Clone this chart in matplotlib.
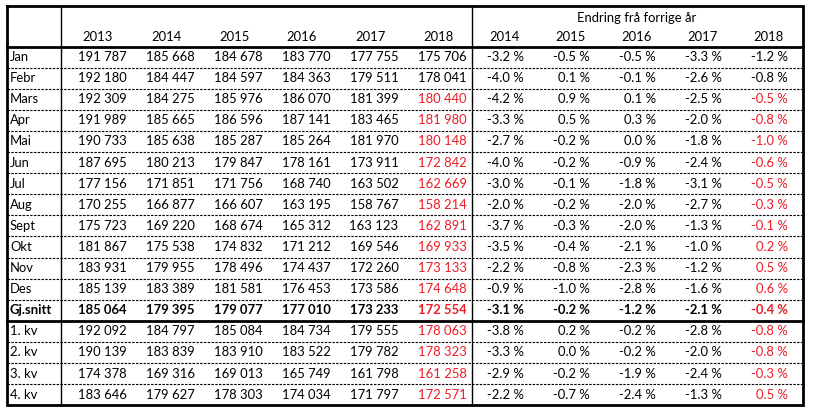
import matplotlib.pyplot as plt

# table data
row_labels = ["Jan", "Febr", "Mars", "Apr", "Mai", "Jun", "Jul", "Aug", "Sept",
              "Okt", "Nov", "Des", "Gj.snitt", "1. kv", "2. kv", "3. kv", "4. kv"]
years = ["2013", "2014", "2015", "2016", "2017", "2018"]
pct_years = ["2014", "2015", "2016", "2017", "2018"]

vals_2013 = [191787, 192180, 192309, 191989, 190733, 187695, 177156, 170255, 175723,
             181867, 183931, 185139, 185064, 192092, 190139, 174378, 183646]
vals_2014 = [185668, 184447, 184275, 185665, 185638, 180213, 171851, 166877, 169220,
             175538, 179955, 183389, 179395, 184797, 183839, 169316, 179627]
vals_2015 = [184678, 184597, 185976, 186596, 185287, 179847, 171756, 166607, 168674,
             174832, 178496, 181581, 179077, 185084, 183910, 169013, 178303]
vals_2016 = [183770, 184363, 186070, 187141, 185264, 178161, 168740, 163195, 165312,
             171212, 174437, 176453, 177010, 184734, 183522, 165749, 174034]
vals_2017 = [177755, 179511, 181399, 183465, 181970, 173911, 163502, 158767, 163123,
             169546, 172260, 173586, 173233, 179555, 179782, 161798, 171797]
vals_2018 = [175706, 178041, 180440, 181980, 180148, 172842, 162669, 158214, 162891,
             169933, 173133, 174648, 172554, 178063, 178323, 161258, 172571]

pct_2014 = [-3.2, -4.0, -4.2, -3.3, -2.7, -4.0, -3.0, -2.0, -3.7, -3.5, -2.2, -0.9,
            -3.1, -3.8, -3.3, -2.9, -2.2]
pct_2015 = [-0.5, 0.1, 0.9, 0.5, -0.2, -0.2, -0.1, -0.2, -0.3, -0.4, -0.8, -1.0,
            -0.2, 0.2, 0.0, -0.2, -0.7]
pct_2016 = [-0.5, -0.1, 0.1, 0.3, 0.0, -0.9, -1.8, -2.0, -2.0, -2.1, -2.3, -2.8,
            -1.2, -0.2, -0.2, -1.9, -2.4]
pct_2017 = [-3.3, -2.6, -2.5, -2.0, -1.8, -2.4, -3.1, -2.7, -1.3, -1.0, -1.2, -1.6,
            -2.1, -2.8, -2.0, -2.4, -1.3]
pct_2018 = [-1.2, -0.8, -0.5, -0.8, -1.0, -0.6, -0.5, -0.3, -0.1, 0.2, 0.5, 0.6,
            -0.4, -0.8, -0.8, -0.3, 0.5]

vals = [vals_2013, vals_2014, vals_2015, vals_2016, vals_2017, vals_2018]
pcts = [pct_2014, pct_2015, pct_2016, pct_2017, pct_2018]

RED = "#ee1c25"
red_from = 2      # 2018 figures from Mars onward are red
bold_row = 12     # Gj.snitt

plt.rcParams['font.family'] = ['Lato', 'DejaVu Sans']
fs = 9.4

fig = plt.figure(figsize=(8.14, 4.18), dpi=100)
ax = fig.add_axes([0, 0, 1, 1])
ax.set_xlim(0, 814)
ax.set_ylim(418, 0)
ax.axis("off")

left, right, top = 7, 803, 6
head_bot = 46.5
rh = 21.1
bottom = head_bot + rh * len(row_labels)

def fmt_num(v):
    return f"{v:,}".replace(",", " ")

def fmt_pct(p):
    return f"{p:.1f} %"

# dashed row separators
for i in range(1, len(row_labels)):
    y = head_bot + rh * i
    if i == bold_row + 1:
        continue
    ax.plot([left, right], [y, y], color="black", lw=0.8, ls=(0, (2.2, 1.2)))

# thick lines
ax.plot([left, right], [head_bot, head_bot], color="black", lw=2)
ysep = head_bot + rh * (bold_row + 1)
ax.plot([left, right], [ysep, ysep], color="black", lw=2)
ax.plot([61, 61], [top, bottom], color="black", lw=1)
ax.plot([472, 472], [top, bottom], color="black", lw=1)
ax.plot([left, right, right, left, left], [top, top, bottom, bottom, top],
        color="black", lw=2, solid_joinstyle="miter")

# header
ax.text(637, 18, "Endring frå forrige år", ha="center", va="center", fontsize=fs)
for j, yr in enumerate(years):
    ax.text(98 + 68 * j, 37, yr, ha="center", va="center", fontsize=fs)
for j, yr in enumerate(pct_years):
    ax.text(520 + 66 * j, 37, yr, ha="right", va="center", fontsize=fs)

# body
for i, lab in enumerate(row_labels):
    yc = head_bot + rh * (i + 0.5)
    fw = "bold" if i == bold_row else "normal"
    ax.text(10, yc, lab, ha="left", va="center", fontsize=fs, fontweight=fw)
    for j, col in enumerate(vals):
        c = RED if (j == 5 and i >= red_from) else "black"
        ax.text(126.5 + 68 * j, yc, fmt_num(col[i]), ha="right", va="center",
                fontsize=fs, fontweight=fw, color=c)
    for j, col in enumerate(pcts):
        c = RED if (j == 4 and i >= red_from) else "black"
        ax.text(524 + 66 * j, yc, fmt_pct(col[i]), ha="right", va="center",
                fontsize=fs, fontweight=fw, color=c)

fig.savefig("out.png", dpi=100, facecolor="white")
